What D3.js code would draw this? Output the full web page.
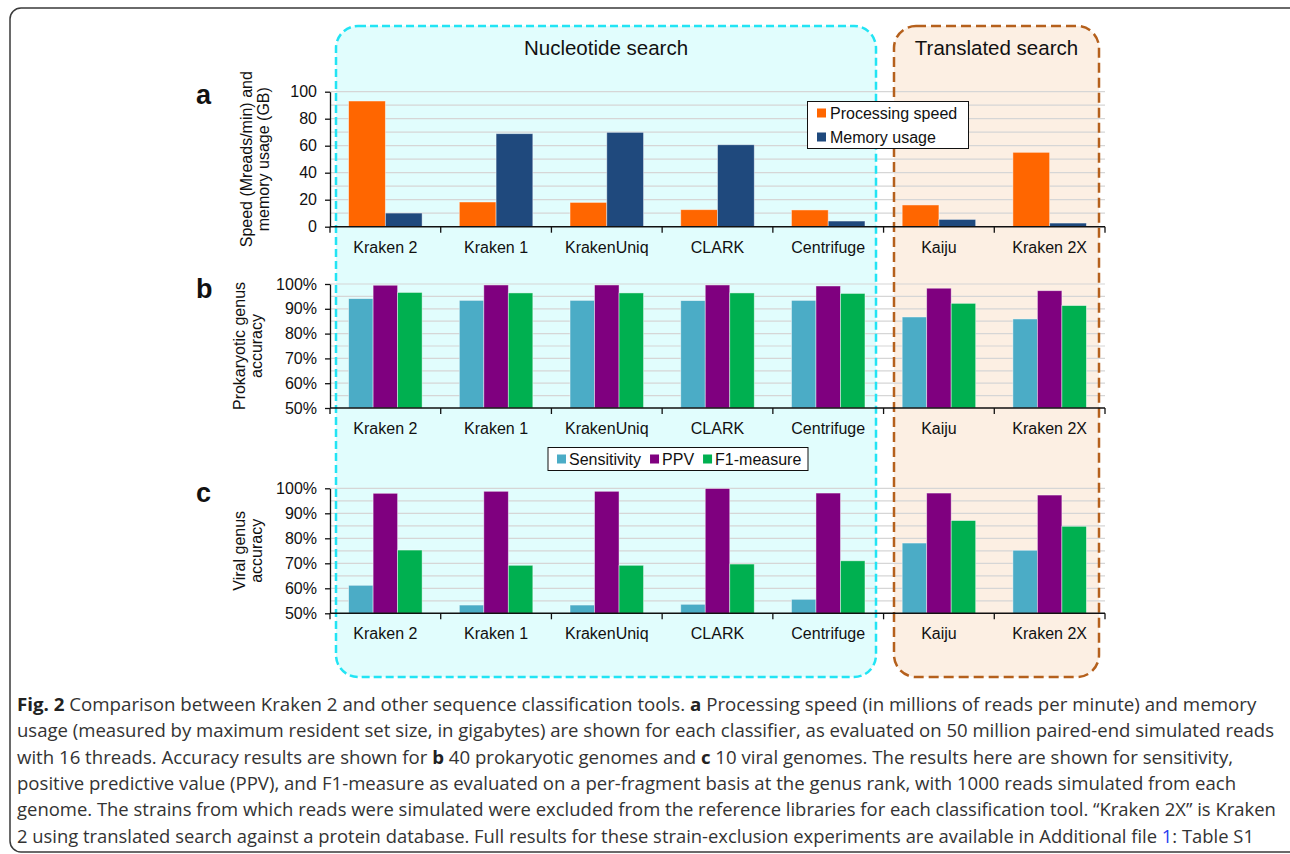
<!DOCTYPE html>
<html>
<head>
<meta charset="utf-8">
<script src="https://cdnjs.cloudflare.com/ajax/libs/d3/7.8.5/d3.min.js"></script>
<style>
body { margin: 0; background: #fff; }
svg text { font-family: "Liberation Sans", Arial, sans-serif; fill: #111; }
svg text.cap { font-family: "Open Sans", "Noto Sans", sans-serif; fill: #333; }
</style>
</head>
<body>
<svg id="fig" width="1290" height="854"></svg>
<script>

// ---- data ----
var tools = ["Kraken 2", "Kraken 1", "KrakenUniq", "CLARK", "Centrifuge", "Kaiju", "Kraken 2X"];

var speed  = [93.1, 18.3, 18.0, 12.6, 12.4, 16.1, 55.1];
var memory = [10.1, 68.9, 69.9, 60.7, 4.2, 5.4, 2.7];

var prokSens = [94.1, 93.4, 93.4, 93.3, 93.4, 86.7, 85.9];
var prokPPV  = [99.5, 99.6, 99.6, 99.6, 99.2, 98.3, 97.3];
var prokF1   = [96.6, 96.4, 96.4, 96.4, 96.2, 92.2, 91.3];

var viralSens = [61.2, 53.3, 53.3, 53.6, 55.6, 78.1, 75.2];
var viralPPV  = [98.0, 98.8, 98.8, 99.9, 98.1, 98.1, 97.3];
var viralF1   = [75.3, 69.2, 69.2, 69.7, 71.0, 87.1, 84.8];

var speedTicks = [0, 20, 40, 60, 80, 100];
var pctTicks = [50, 60, 70, 80, 90, 100];

var speedSeries = ["Processing speed", "Memory usage"];
var accSeries = ["Sensitivity", "PPV", "F1-measure"];

var groups = ["Nucleotide search", "Translated search"];

var caption = [
  "**Fig. 2** Comparison between Kraken 2 and other sequence classification tools. **a** Processing speed (in millions of reads per minute) and memory",
  "usage (measured by maximum resident set size, in gigabytes) are shown for each classifier, as evaluated on 50 million paired-end simulated reads",
  "with 16 threads. Accuracy results are shown for **b** 40 prokaryotic genomes and **c** 10 viral genomes. The results here are shown for sensitivity,",
  "positive predictive value (PPV), and F1-measure as evaluated on a per-fragment basis at the genus rank, with 1000 reads simulated from each",
  "genome. The strains from which reads were simulated were excluded from the reference libraries for each classification tool. \u201cKraken 2X\u201d is Kraken",
  "2 using translated search against a protein database. Full results for these strain-exclusion experiments are available in Additional file [1]: Table S1"
];

// ---- drawing ----
var svg = d3.select("#fig");

var back = svg.append("g"),
    grid = svg.append("g"),
    border = svg.append("g"),
    front = svg.append("g");

// outer frame
svg.insert("rect", ":first-child")
    .attr("x", 10).attr("y", 8).attr("width", 1290).attr("height", 844)
    .attr("rx", 11).attr("fill", "#fff").attr("stroke", "#3a3a3a").attr("stroke-width", 1.5);

var x = d3.scaleBand().domain(tools).range([330, 1105]).paddingInner(0.336).paddingOuter(0.168);

// search-type boxes
var boxes = [
  {name: groups[0], x0: 336, x1: 876, fill: "#e1fdfd", stroke: "#22e4f4", dash: "8,4"},
  {name: groups[1], x0: 894, x1: 1099, fill: "#fcefe3", stroke: "#b5601c", dash: "10,5"}
];
back.selectAll("rect").data(boxes).join("rect")
    .attr("x", function(d) { return d.x0; }).attr("y", 26)
    .attr("width", function(d) { return d.x1 - d.x0; }).attr("height", 651)
    .attr("rx", 22).attr("fill", function(d) { return d.fill; });
border.selectAll("rect").data(boxes).join("rect")
    .attr("x", function(d) { return d.x0; }).attr("y", 26)
    .attr("width", function(d) { return d.x1 - d.x0; }).attr("height", 651)
    .attr("rx", 22).attr("fill", "none")
    .attr("stroke", function(d) { return d.stroke; })
    .attr("stroke-width", 2.5)
    .attr("stroke-dasharray", function(d) { return d.dash; });
front.selectAll("text.grp").data(boxes).join("text").attr("class", "grp")
    .attr("x", function(d) { return (d.x0 + d.x1) / 2; }).attr("y", 55)
    .attr("text-anchor", "middle").attr("font-size", 20.5)
    .text(function(d) { return d.name; });

function panel(o) {
  var y = d3.scaleLinear().domain(o.domain).range([o.bottom, o.top]);
  var x1 = d3.scaleBand().domain(d3.range(o.values.length)).range([0, x.bandwidth()]);

  // gridlines
  grid.selectAll(null).data(o.grid).enter().append("line")
      .attr("x1", 330).attr("x2", 1105)
      .attr("y1", function(d) { return y(d); }).attr("y2", function(d) { return y(d); })
      .attr("stroke", "#d6d6d6").attr("stroke-width", 1.2);

  // bars
  var g = front.append("g");
  o.values.forEach(function(vals, s) {
    g.selectAll(null).data(vals).enter().append("rect")
        .attr("x", function(d, i) { return x(tools[i]) + x1(s); })
        .attr("y", function(d) { return y(d); })
        .attr("width", x1.bandwidth())
        .attr("height", function(d) { return o.bottom - y(d); })
        .attr("fill", o.colors[s])
        .attr("stroke", "rgba(255,255,255,0.55)").attr("stroke-width", 0.8);
  });

  // y axis
  var ax = front.append("g").attr("transform", "translate(330,0)")
      .call(d3.axisLeft(y).tickValues(o.ticks).tickSize(5).tickSizeOuter(0).tickPadding(8)
          .tickFormat(o.fmt));
  ax.select(".domain").attr("stroke", "#111").attr("stroke-width", 1.3);
  ax.selectAll(".tick line").attr("stroke", "#111").attr("stroke-width", 1.3);
  ax.selectAll(".tick text").attr("font-size", 16).attr("fill", "#111")
      .attr("font-family", "Liberation Sans, Arial, sans-serif");

  // x axis with ticks on group boundaries
  front.append("line").attr("x1", 330).attr("x2", 1105)
      .attr("y1", o.bottom).attr("y2", o.bottom)
      .attr("stroke", "#111").attr("stroke-width", 1.5);
  front.selectAll(null).data(d3.range(tools.length + 1)).enter().append("line")
      .attr("x1", function(i) { return 330 + i * x.step(); })
      .attr("x2", function(i) { return 330 + i * x.step(); })
      .attr("y1", o.bottom).attr("y2", o.bottom + 6)
      .attr("stroke", "#111").attr("stroke-width", 1.3);
  front.selectAll(null).data(tools).enter().append("text")
      .attr("x", function(d) { return x(d) + x.bandwidth() / 2; })
      .attr("y", o.bottom + 26)
      .attr("text-anchor", "middle").attr("font-size", 16)
      .text(function(d) { return d; });

  // axis title, two lines
  var mid = (o.top + o.bottom) / 2;
  front.append("text")
      .attr("transform", "translate(" + o.titleX + "," + mid + ") rotate(-90)")
      .attr("text-anchor", "middle").attr("font-size", 16)
      .selectAll("tspan").data(o.title).join("tspan")
      .attr("x", 0).attr("dy", function(d, i) { return i ? 17 : 0; })
      .text(function(d) { return d; });

  // panel letter
  front.append("text").attr("x", 196).attr("y", o.letterY)
      .attr("font-size", 27).attr("font-weight", "bold").text(o.letter);

  return y;
}

panel({
  values: [speed, memory], colors: ["#ff6600", "#1f497d"],
  domain: [0, 100], top: 91.7, bottom: 226.7,
  ticks: speedTicks, grid: d3.range(10, 101, 10), fmt: function(d) { return d; },
  title: ["Speed (Mreads/min) and", "memory usage (GB)"], titleX: 252,
  letter: "a", letterY: 104
});
panel({
  values: [prokSens, prokPPV, prokF1], colors: ["#4bacc6", "#7f007f", "#00b050"],
  domain: [50, 100], top: 284, bottom: 408,
  ticks: pctTicks, grid: d3.range(55, 101, 5), fmt: function(d) { return d + "%"; },
  title: ["Prokaryotic genus", "accuracy"], titleX: 245,
  letter: "b", letterY: 298
});
panel({
  values: [viralSens, viralPPV, viralF1], colors: ["#4bacc6", "#7f007f", "#00b050"],
  domain: [50, 100], top: 488.3, bottom: 613.3,
  ticks: pctTicks, grid: d3.range(55, 101, 5), fmt: function(d) { return d + "%"; },
  title: ["Viral genus", "accuracy"], titleX: 245,
  letter: "c", letterY: 502
});

// legend a (stacked)
var la = front.append("g");
la.append("rect").attr("x", 807.5).attr("y", 101.5).attr("width", 161).attr("height", 47)
    .attr("fill", "#fff").attr("stroke", "#111").attr("stroke-width", 1);
speedSeries.forEach(function(s, i) {
  la.append("rect").attr("x", 817).attr("y", 108.5 + i * 24).attr("width", 9).attr("height", 9)
      .attr("fill", ["#ff6600", "#1f497d"][i]);
  la.append("text").attr("x", 830).attr("y", 113 + i * 24).attr("dy", "0.36em")
      .attr("font-size", 16).text(s);
});

// legend c (inline)
var lc = front.append("g");
lc.append("rect").attr("x", 548).attr("y", 447.5).attr("width", 260).attr("height", 23)
    .attr("fill", "#fff").attr("stroke", "#111").attr("stroke-width", 1);
var lx = 557;
accSeries.forEach(function(s, i) {
  lc.append("rect").attr("x", lx).attr("y", 454.5).attr("width", 9).attr("height", 9)
      .attr("fill", ["#4bacc6", "#7f007f", "#00b050"][i]);
  var t = lc.append("text").attr("x", lx + 12).attr("y", 459).attr("dy", "0.36em")
      .attr("font-size", 16).text(s);
  lx += 12 + t.node().getComputedTextLength() + 9;
});

// caption: natural width, then squeezed horizontally to the reference line length
var capWidths = [1240, 1258, 1217, 1220, 1260, 1238];
caption.forEach(function(line, i) {
  var t = svg.append("text").attr("class", "cap")
      .attr("x", 0).attr("y", 0)
      .attr("font-size", 18.5);
  line.split(/(\*\*.*?\*\*|\[.*?\])/).forEach(function(part) {
    if (!part) return;
    if (part.indexOf("**") === 0) {
      t.append("tspan").attr("font-weight", "bold").style("fill", "#222").text(part.slice(2, -2));
    } else if (part.charAt(0) === "[") {
      t.append("tspan").style("fill", "#2a3ef0").text(part.slice(1, -1));
    } else {
      t.append("tspan").text(part);
    }
  });
  var k = capWidths[i] / t.node().getComputedTextLength();
  t.attr("transform", "translate(17," + (711 + i * 26.3) + ") scale(" + k + ",1)");
});

</script>
</body>
</html>
